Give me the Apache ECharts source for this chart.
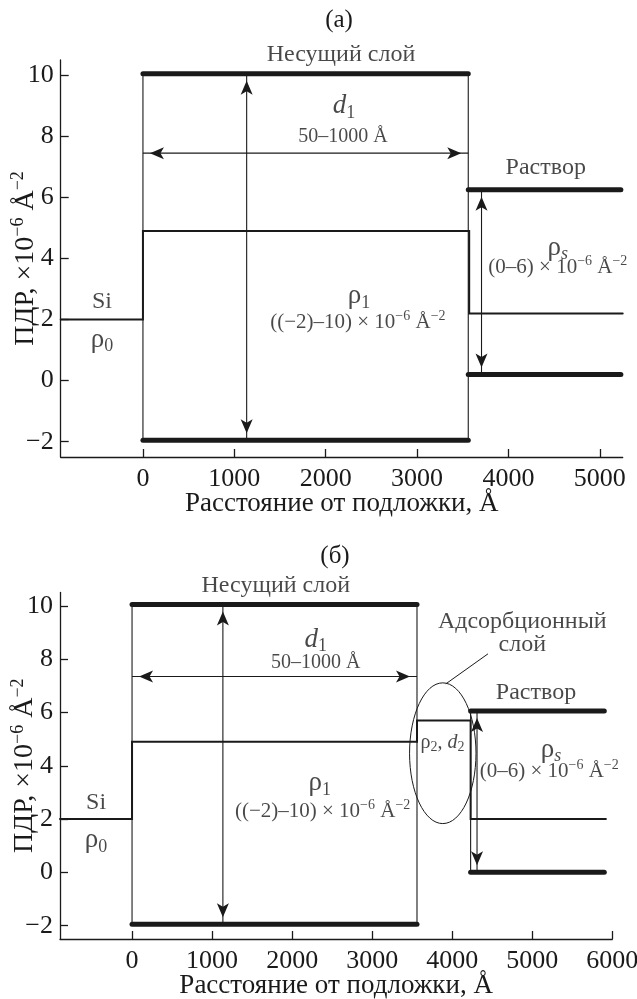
<!DOCTYPE html>
<html><head><meta charset="utf-8">
<script src="https://cdn.jsdelivr.net/npm/echarts@6/dist/echarts.min.js"></script>
<style>html,body{margin:0;padding:0;background:#fff}#c{width:637px;height:999px}</style>
</head><body><div id="c"></div>
<script>
// ---------------- data ----------------
const xTicksA = [0, 1000, 2000, 3000, 4000, 5000];
const xTicksB = [0, 1000, 2000, 3000, 4000, 5000, 6000];
const yTicks = [-2, 0, 2, 4, 6, 8, 10];

// panel (a): SLD profile and parameter ranges
const profileA = [[-900, 2], [0, 2], [0, 4.9], [3570, 4.9], [3570, 2.2], [5250, 2.2]];
const carrierTopA = [[0, 10.05], [3560, 10.05]];
const carrierBottomA = [[0, -1.95], [3560, -1.95]];
const carrierLeftA = [[0, -1.95], [0, 10.05]];
const carrierRightA = [[3560, -1.95], [3560, 10.05]];
const solventTopA = [[3560, 6.25], [5230, 6.25]];
const solventBottomA = [[3560, 0.2], [5230, 0.2]];
const arrowD1A = [[0, 7.45], [3560, 7.45]];
const arrowRho1A = [[1135, 10.05], [1135, -1.95]];
const arrowRhoSA = [[3705, 6.25], [3705, 0.2]];

// panel (б)
const profileB = [[-900, 2], [0, 2], [0, 4.9], [3560, 4.9], [3560, 5.7], [4230, 5.7], [4230, 2.0], [5920, 2.0]];
const carrierTopB = [[0, 10.05], [3560, 10.05]];
const carrierBottomB = [[0, -1.95], [3560, -1.95]];
const carrierLeftB = [[0, -1.95], [0, 10.05]];
const carrierRightB = [[3560, -1.95], [3560, 10.05]];
const solventTopB = [[4230, 6.05], [5900, 6.05]];
const solventBottomB = [[4230, 0.0], [5900, 0.0]];
const solventLeftB = [[4230, 0.0], [4230, 6.05]];
const arrowD1B = [[0, 7.35], [3560, 7.35]];
const arrowRho1B = [[1135, 10.05], [1135, -1.95]];
const arrowRhoSB = [[4310, 6.05], [4310, 0.0]];
const adsEllipseB = [[3882, 4.47, 415, 2.64]]; // centre x, centre y, half-width, half-height (data units)
const adsLeaderB = [[3924, 7.08], [4443, 8.19]];

// text annotations (data coordinates)
const annotationsA = [
  [2167, 10.68, '{b|Несущий слой}'],
  [2200, 9.0, '{di|d}{dsub|1}'],
  [2190, 8.0, '{s|50–1000 Å}'],
  [4408, 6.98, '{b|Раствор}'],
  [4540, 4.36, '{g|ρ}{gsubi|s}'],
  [4540, 3.70, '{m|(0–6) × 10}{sup|−6}{m| Å}{sup|−2}'],
  [2364, 2.77, '{g|ρ}{gsub|1}'],
  [2352, 1.9, '{m|((−2)–10) × 10}{sup|−6}{m| Å}{sup|−2}'],
  [-448, 2.6, '{b|Si}'],
  [-448, 1.35, '{g|ρ}{gsub|0}']
];
const annotationsB = [
  [1796, 10.75, '{b|Несущий слой}'],
  [2294, 8.73, '{di|d}{dsub|1}'],
  [2294, 7.86, '{s|50–1000 Å}'],
  [4875, 9.41, '{b|Адсорбционный}'],
  [4875, 8.54, '{b|слой}'],
  [5047, 6.75, '{b|Раствор}'],
  [3878, 4.87, '{t|ρ}{tsub|2}{t|, }{ti|d}{tsub|2}'],
  [5233, 4.6, '{g|ρ}{gsubi|s}'],
  [5212, 3.79, '{m|(0–6) × 10}{sup|−6}{m| Å}{sup|−2}'],
  [2344, 3.36, '{g|ρ}{gsub|1}'],
  [2381, 2.28, '{m|((−2)–10) × 10}{sup|−6}{m| Å}{sup|−2}'],
  [-449, 2.61, '{b|Si}'],
  [-449, 1.22, '{g|ρ}{gsub|0}']
];

// ---------------- style ----------------
const F = '"Liberation Serif", "DejaVu Serif", serif';
const C = '#1a1a1a';
const rich = {
  b: { fontFamily: F, fontSize: 24, color: C, lineHeight: 28 },
  s: { fontFamily: F, fontSize: 20, color: C, lineHeight: 24 },
  m: { fontFamily: F, fontSize: 21, color: C, lineHeight: 26 },
  sup: { fontFamily: F, fontSize: 14, color: C, lineHeight: 14, verticalAlign: 'top' },
  di: { fontFamily: F, fontSize: 27, fontStyle: 'italic', color: C, lineHeight: 32 },
  dsub: { fontFamily: F, fontSize: 18, color: C, lineHeight: 18, verticalAlign: 'bottom' },
  g: { fontFamily: F, fontSize: 27, color: C, lineHeight: 32 },
  gsub: { fontFamily: F, fontSize: 18, color: C, lineHeight: 18, verticalAlign: 'bottom' },
  gsubi: { fontFamily: F, fontSize: 18, fontStyle: 'italic', color: C, lineHeight: 18, verticalAlign: 'bottom' },
  t: { fontFamily: F, fontSize: 20, color: C, lineHeight: 24 },
  ti: { fontFamily: F, fontSize: 20, fontStyle: 'italic', color: C, lineHeight: 24 },
  tsub: { fontFamily: F, fontSize: 14, color: C, lineHeight: 14, verticalAlign: 'bottom' }
};
const nameRich = {
  a: { fontFamily: F, fontSize: 28, color: C, lineHeight: 32 },
  p: { fontFamily: F, fontSize: 18, color: C, lineHeight: 18, verticalAlign: 'top' }
};

const fmt = v => (v < 0 ? '\u2212' + Math.abs(v) : String(v));

function xAxisOf(gi, min, max, ticks, gap) {
  return {
    gridIndex: gi, type: 'value', min: min, max: max,
    axisLine: { show: true, onZero: false, lineStyle: { color: C, width: 1.3 } },
    axisTick: { show: true, inside: true, length: 8, customValues: ticks, lineStyle: { color: C, width: 1.3 } },
    axisLabel: { customValues: ticks, formatter: fmt, fontFamily: F, fontSize: 26, color: C, margin: 9 },
    splitLine: { show: false },
    name: 'Расстояние от подложки, Å', nameLocation: 'middle', nameGap: gap, nameMoveOverlap: false,
    nameTextStyle: { fontFamily: F, fontSize: 27, color: C }
  };
}
function yAxisOf(gi) {
  return {
    gridIndex: gi, type: 'value', min: -2.5, max: 10.5,
    axisLine: { show: true, onZero: false, lineStyle: { color: C, width: 1.3 } },
    axisTick: { show: true, inside: true, length: 8, customValues: yTicks, lineStyle: { color: C, width: 1.3 } },
    axisLabel: { customValues: yTicks, formatter: fmt, fontFamily: F, fontSize: 26, color: C, margin: 7 },
    splitLine: { show: false },
    name: '{a|ПДР, ×10}{p|−6}{a| Å}{p|−2}', nameLocation: 'middle', nameGap: 19, nameMoveOverlap: false,
    nameTextStyle: { rich: nameRich }
  };
}

function seg(gi, data, width) {
  return {
    type: 'line', xAxisIndex: gi, yAxisIndex: gi, data: data, symbol: 'none',
    lineStyle: { color: C, width: width, cap: 'round', join: 'miter' },
    silent: true, animation: false, clip: false, z: 3
  };
}
const AW = 9, AH = 14;
function arrow(gi, data) {
  const p = data[0], q = data[1];
  const vertical = p[0] === q[0];
  const items = [
    { value: p, symbol: 'arrow', symbolRotate: vertical ? 0 : 90, symbolOffset: vertical ? [0, AH / 2] : [AH / 2, 0] },
    { value: q, symbol: 'arrow', symbolRotate: vertical ? 180 : -90, symbolOffset: vertical ? [0, -AH / 2] : [-AH / 2, 0] }
  ];
  return {
    type: 'line', xAxisIndex: gi, yAxisIndex: gi, data: items, showSymbol: true,
    symbolSize: [AW, AH], itemStyle: { color: C, borderWidth: 0 },
    lineStyle: { color: C, width: 1.1 }, silent: true, animation: false, clip: false, z: 2
  };
}
function texts(gi, arr) {
  return {
    type: 'scatter', xAxisIndex: gi, yAxisIndex: gi, symbolSize: 0, clip: false, silent: true, animation: false,
    data: arr.map(a => ({ value: [a[0], a[1]], label: { formatter: a[2] } })),
    label: { show: true, position: 'inside', rich: rich, color: C },
    z: 5
  };
}

const chart = echarts.init(document.getElementById('c'), null, { renderer: 'canvas' });
chart.setOption({
  backgroundColor: '#fff',
  animation: false,
  textStyle: { fontFamily: F },
  graphic: [
    { type: 'text', x: 339, y: 20, style: { text: '(a)', font: '25px "Liberation Serif", serif', fill: C, align: 'center', verticalAlign: 'middle' } },
    { type: 'text', x: 335, y: 556, style: { text: '(б)', font: '25px "Liberation Serif", serif', fill: C, align: 'center', verticalAlign: 'middle' } }
  ],
  grid: [
    { left: 60.7, top: 60, width: 562, height: 397, outerBoundsMode: 'none', containLabel: false },
    { left: 60, top: 592.5, width: 552.3, height: 346.5, outerBoundsMode: 'none', containLabel: false }
  ],
  xAxis: [xAxisOf(0, -900, 5250, xTicksA, 33), xAxisOf(1, -900, 6000, xTicksB, 33)],
  yAxis: [yAxisOf(0), yAxisOf(1)],
  series: [
    seg(0, carrierLeftA, 1.1), seg(0, carrierRightA, 1.1),
    seg(0, profileA, 2),
    seg(0, carrierTopA, 5), seg(0, carrierBottomA, 5),
    seg(0, solventTopA, 5), seg(0, solventBottomA, 5),
    arrow(0, arrowD1A), arrow(0, arrowRho1A), arrow(0, arrowRhoSA),
    texts(0, annotationsA),

    seg(1, carrierLeftB, 1.1), seg(1, carrierRightB, 1.1), seg(1, solventLeftB, 1.1),
    seg(1, profileB, 2),
    seg(1, carrierTopB, 5), seg(1, carrierBottomB, 5),
    seg(1, solventTopB, 5), seg(1, solventBottomB, 5),
    arrow(1, arrowD1B), arrow(1, arrowRho1B), arrow(1, arrowRhoSB),
    seg(1, adsLeaderB, 1),
    {
      type: 'custom', xAxisIndex: 1, yAxisIndex: 1, data: adsEllipseB, clip: false, silent: true, animation: false,
      renderItem: function (params, api) {
        const c = api.coord([api.value(0), api.value(1)]);
        const e = api.coord([api.value(0) + api.value(2), api.value(1) + api.value(3)]);
        return {
          type: 'ellipse',
          shape: { cx: c[0], cy: c[1], rx: Math.abs(e[0] - c[0]), ry: Math.abs(c[1] - e[1]) },
          style: { fill: 'none', stroke: C, lineWidth: 1 }
        };
      },
      z: 2
    },
    texts(1, annotationsB)
  ]
});
</script>
</body></html>
